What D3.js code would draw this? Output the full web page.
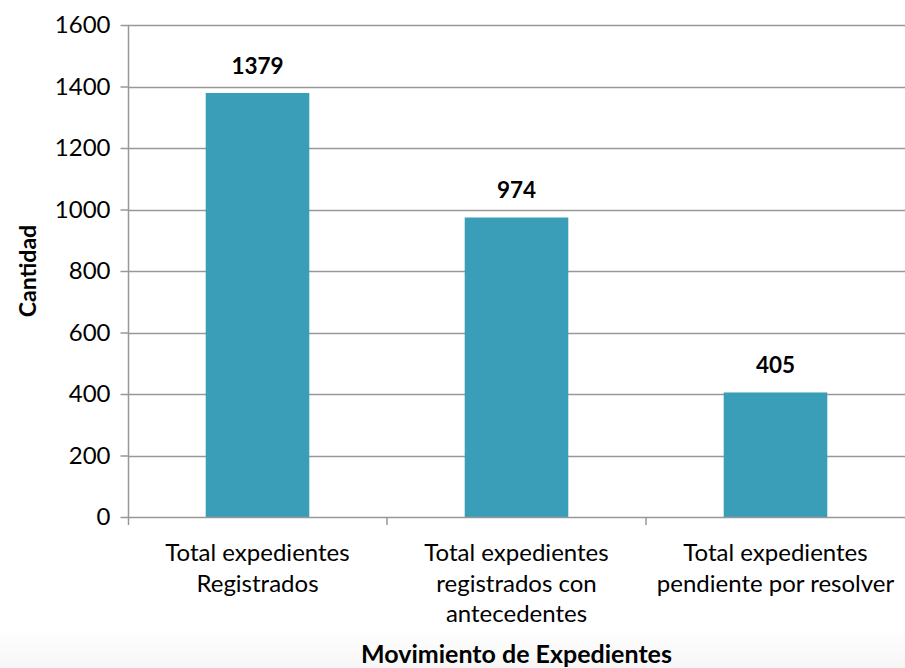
<!DOCTYPE html>
<html>
<head>
<meta charset="utf-8">
<script src="https://cdn.jsdelivr.net/npm/d3@7"></script>
<style>
  body { margin: 0; background: #fff; }
  svg { display: block; }
  text { font-family: Lato, "Open Sans", sans-serif; fill: #000; }
</style>
</head>
<body>
<div id="chart"></div>
<script>
const categories = [
  ["Total expedientes", "Registrados"],
  ["Total expedientes", "registrados con", "antecedentes"],
  ["Total expedientes", "pendiente por resolver"]
];
const values = [1379, 974, 405];
const yTicks = [0, 200, 400, 600, 800, 1000, 1200, 1400, 1600];

const width = 905, height = 668;
const margin = { top: 25, right: 0, bottom: 151, left: 128 };

const svg = d3.select("#chart").append("svg")
  .attr("width", width)
  .attr("height", height);

// faint shading at the bottom of the picture
const grad = svg.append("defs").append("linearGradient")
  .attr("id", "bg").attr("x1", 0).attr("y1", 0).attr("x2", 0).attr("y2", 1);
grad.append("stop").attr("offset", "0%").attr("stop-color", "#ffffff");
grad.append("stop").attr("offset", "100%").attr("stop-color", "#f6f6f6");
svg.append("rect")
  .attr("x", 0).attr("y", 628).attr("width", width).attr("height", height - 628)
  .attr("fill", "url(#bg)");

const x = d3.scaleBand()
  .domain(d3.range(values.length))
  .range([margin.left, width - margin.right])
  .paddingInner(0.6)
  .paddingOuter(0.3);

const y = d3.scaleLinear()
  .domain([0, 1600])
  .range([height - margin.bottom, margin.top]);

// gridlines
svg.append("g")
  .selectAll("line")
  .data(yTicks.filter(d => d > 0))
  .join("line")
  .attr("x1", margin.left)
  .attr("x2", width)
  .attr("y1", d => Math.round(y(d)) + 0.5)
  .attr("y2", d => Math.round(y(d)) + 0.5)
  .attr("stroke", "#989898")
  .attr("stroke-width", 1.5);

// bars
svg.append("g")
  .selectAll("rect")
  .data(values)
  .join("rect")
  .attr("x", (d, i) => x(i))
  .attr("width", x.bandwidth())
  .attr("y", d => y(d))
  .attr("height", d => y(0) - y(d))
  .attr("fill", "#3b9eb8");

// value labels
svg.append("g")
  .selectAll("text")
  .data(values)
  .join("text")
  .attr("x", (d, i) => x(i) + x.bandwidth() / 2)
  .attr("y", d => y(d) - 19)
  .attr("text-anchor", "middle")
  .style("font-size", "22.5px")
  .style("font-weight", "bold")
  .text(d => d);

// y axis
const yAxis = svg.append("g")
  .attr("transform", `translate(${margin.left + 0.5},0)`)
  .call(d3.axisLeft(y).tickValues(yTicks).tickSize(8).tickPadding(10).tickFormat(d3.format("d")));
yAxis.selectAll("line").attr("stroke", "#989898").attr("stroke-width", 1.5);
yAxis.select(".domain").attr("stroke", "#989898").attr("stroke-width", 1.5).attr("d", `M0,${y(1600)}V${y(0)}`);
yAxis.selectAll("text").style("font-size", "24px").style("font-family", "Lato, sans-serif").attr("fill", "#000");

// x axis
const xTickPos = [1, 2].map(i => margin.left + (width - margin.left) / 3 * i);
const xAxisG = svg.append("g");
xAxisG.append("line")
  .attr("x1", margin.left).attr("x2", width)
  .attr("y1", y(0) + 0.5).attr("y2", y(0) + 0.5)
  .attr("stroke", "#989898").attr("stroke-width", 1.5);
xAxisG.selectAll("line.tick")
  .data(xTickPos)
  .join("line")
  .attr("class", "tick")
  .attr("x1", d => d).attr("x2", d => d)
  .attr("y1", y(0)).attr("y2", y(0) + 8)
  .attr("stroke", "#989898").attr("stroke-width", 1.5);
xAxisG.append("line")
  .attr("x1", margin.left + 0.5).attr("x2", margin.left + 0.5)
  .attr("y1", y(0)).attr("y2", y(0) + 8)
  .attr("stroke", "#989898").attr("stroke-width", 1.5);

// category labels
svg.append("g")
  .selectAll("text")
  .data(categories)
  .join("text")
  .attr("text-anchor", "middle")
  .style("font-size", "24px")
  .each(function (lines, i) {
    d3.select(this).selectAll("tspan")
      .data(lines)
      .join("tspan")
      .attr("x", x(i) + x.bandwidth() / 2)
      .attr("y", (l, j) => 561 + j * 30.5)
      .text(l => l);
  });

// axis titles
svg.append("text")
  .attr("x", (margin.left + width) / 2)
  .attr("y", 663)
  .attr("text-anchor", "middle")
  .style("font-size", "25px")
  .style("font-weight", "bold")
  .text("Movimiento de Expedientes");

svg.append("text")
  .attr("transform", `translate(36,${(y(0) + y(1600)) / 2}) rotate(-90)`)
  .attr("text-anchor", "middle")
  .style("font-size", "23px")
  .style("font-weight", "bold")
  .text("Cantidad");
</script>
</body>
</html>
